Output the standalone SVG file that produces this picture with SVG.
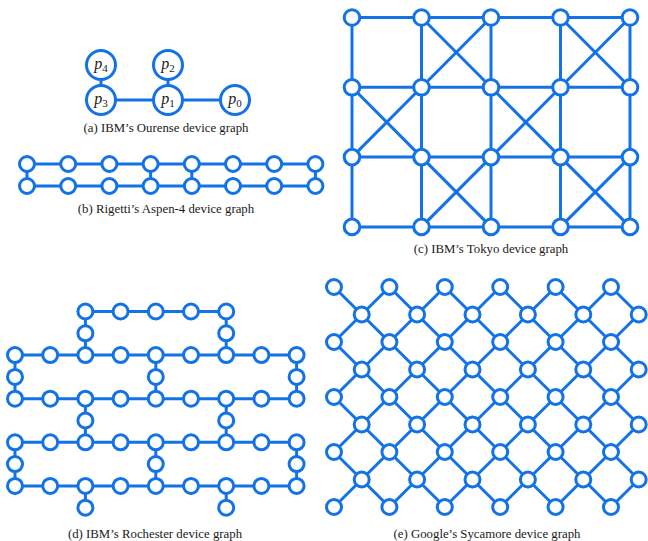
<svg xmlns="http://www.w3.org/2000/svg" width="648" height="541" viewBox="0 0 648 541">
<style>
.e path{stroke:#1272e6;stroke-width:3;fill:none}
.n circle{fill:#fff;stroke:#1272e6;stroke-width:3}
.cap{font-family:"Liberation Serif","Times New Roman",serif;font-size:12.8px;fill:#1a1a1a;text-anchor:middle}
.lbl{font-family:"Liberation Serif","Times New Roman",serif;font-size:16px;fill:#1a1a1a;text-anchor:middle}
.lbl .v{font-style:italic}
.lbl .s{font-size:11px}
</style>
<rect width="648" height="541" fill="#fff"/>

<!-- (a) Ourense -->
<g id="a-edges" class="e">
<path d="M101 100H168"/><path d="M168 100H235"/><path d="M101 65V100"/><path d="M168 65V100"/>
</g>
<g class="n">
<g id="a-p4"><circle cx="101" cy="65" r="14.5"/><text class="lbl" x="101" y="68.5"><tspan class="v">p</tspan><tspan class="s" dy="3">4</tspan></text></g>
<g id="a-p2"><circle cx="168" cy="65" r="14.5"/><text class="lbl" x="168" y="68.5"><tspan class="v">p</tspan><tspan class="s" dy="3">2</tspan></text></g>
<g id="a-p3"><circle cx="101" cy="100" r="14.5"/><text class="lbl" x="101" y="103.5"><tspan class="v">p</tspan><tspan class="s" dy="3">3</tspan></text></g>
<g id="a-p1"><circle cx="168" cy="100" r="14.5"/><text class="lbl" x="168" y="103.5"><tspan class="v">p</tspan><tspan class="s" dy="3">1</tspan></text></g>
<g id="a-p0"><circle cx="235" cy="100" r="14.5"/><text class="lbl" x="235" y="103.5"><tspan class="v">p</tspan><tspan class="s" dy="3">0</tspan></text></g>
</g>
<text class="cap" x="166" y="132">(a) IBM’s Ourense device graph</text>

<!-- (b) Aspen-4 -->
<g id="b-edges" class="e">
<path d="M27 164h41.2"/><path d="M68.2 164h41.2"/><path d="M109.4 164h41.2"/><path d="M150.6 164h41.2"/><path d="M191.8 164h41.2"/><path d="M233 164h41.2"/><path d="M274.2 164h41.2"/>
<path d="M27 186h41.2"/><path d="M68.2 186h41.2"/><path d="M109.4 186h41.2"/><path d="M150.6 186h41.2"/><path d="M191.8 186h41.2"/><path d="M233 186h41.2"/><path d="M274.2 186h41.2"/>
<path d="M27 164v22"/><path d="M150.6 164v22"/><path d="M191.8 164v22"/><path d="M315.4 164v22"/>
</g>
<g class="n">
<g id="b-0-0"><circle cx="27" cy="164" r="7.5"/></g>
<g id="b-0-1"><circle cx="68.2" cy="164" r="7.5"/></g>
<g id="b-0-2"><circle cx="109.4" cy="164" r="7.5"/></g>
<g id="b-0-3"><circle cx="150.6" cy="164" r="7.5"/></g>
<g id="b-0-4"><circle cx="191.8" cy="164" r="7.5"/></g>
<g id="b-0-5"><circle cx="233" cy="164" r="7.5"/></g>
<g id="b-0-6"><circle cx="274.2" cy="164" r="7.5"/></g>
<g id="b-0-7"><circle cx="315.4" cy="164" r="7.5"/></g>
<g id="b-1-0"><circle cx="27" cy="186" r="7.5"/></g>
<g id="b-1-1"><circle cx="68.2" cy="186" r="7.5"/></g>
<g id="b-1-2"><circle cx="109.4" cy="186" r="7.5"/></g>
<g id="b-1-3"><circle cx="150.6" cy="186" r="7.5"/></g>
<g id="b-1-4"><circle cx="191.8" cy="186" r="7.5"/></g>
<g id="b-1-5"><circle cx="233" cy="186" r="7.5"/></g>
<g id="b-1-6"><circle cx="274.2" cy="186" r="7.5"/></g>
<g id="b-1-7"><circle cx="315.4" cy="186" r="7.5"/></g>
</g>
<text class="cap" x="166" y="213">(b) Rigetti’s Aspen-4 device graph</text>

<!-- (c) Tokyo -->
<g id="c-edges" class="e">
<path d="M352 17.5h69.5"/><path d="M421.5 17.5h69.5"/><path d="M491 17.5h69.5"/><path d="M560.5 17.5h69.5"/>
<path d="M352 87.3h69.5"/><path d="M421.5 87.3h69.5"/><path d="M491 87.3h69.5"/><path d="M560.5 87.3h69.5"/>
<path d="M352 157.1h69.5"/><path d="M421.5 157.1h69.5"/><path d="M491 157.1h69.5"/><path d="M560.5 157.1h69.5"/>
<path d="M352 226.9h69.5"/><path d="M421.5 226.9h69.5"/><path d="M491 226.9h69.5"/><path d="M560.5 226.9h69.5"/>
<path d="M352 17.5v69.8"/><path d="M352 87.3v69.8"/><path d="M352 157.1v69.8"/>
<path d="M421.5 17.5v69.8"/><path d="M421.5 87.3v69.8"/><path d="M421.5 157.1v69.8"/>
<path d="M491 17.5v69.8"/><path d="M491 87.3v69.8"/><path d="M491 157.1v69.8"/>
<path d="M560.5 17.5v69.8"/><path d="M560.5 87.3v69.8"/><path d="M560.5 157.1v69.8"/>
<path d="M630 17.5v69.8"/><path d="M630 87.3v69.8"/><path d="M630 157.1v69.8"/>
<path d="M421.5 17.5L491 87.3"/><path d="M491 17.5L421.5 87.3"/>
<path d="M560.5 17.5L630 87.3"/><path d="M630 17.5L560.5 87.3"/>
<path d="M352 87.3L421.5 157.1"/><path d="M421.5 87.3L352 157.1"/>
<path d="M491 87.3L560.5 157.1"/><path d="M560.5 87.3L491 157.1"/>
<path d="M421.5 157.1L491 226.9"/><path d="M491 157.1L421.5 226.9"/>
<path d="M560.5 157.1L630 226.9"/><path d="M630 157.1L560.5 226.9"/>
</g>
<g class="n">
<g id="c-0-0"><circle cx="352" cy="17.5" r="7.8"/></g>
<g id="c-0-1"><circle cx="421.5" cy="17.5" r="7.8"/></g>
<g id="c-0-2"><circle cx="491" cy="17.5" r="7.8"/></g>
<g id="c-0-3"><circle cx="560.5" cy="17.5" r="7.8"/></g>
<g id="c-0-4"><circle cx="630" cy="17.5" r="7.8"/></g>
<g id="c-1-0"><circle cx="352" cy="87.3" r="7.8"/></g>
<g id="c-1-1"><circle cx="421.5" cy="87.3" r="7.8"/></g>
<g id="c-1-2"><circle cx="491" cy="87.3" r="7.8"/></g>
<g id="c-1-3"><circle cx="560.5" cy="87.3" r="7.8"/></g>
<g id="c-1-4"><circle cx="630" cy="87.3" r="7.8"/></g>
<g id="c-2-0"><circle cx="352" cy="157.1" r="7.8"/></g>
<g id="c-2-1"><circle cx="421.5" cy="157.1" r="7.8"/></g>
<g id="c-2-2"><circle cx="491" cy="157.1" r="7.8"/></g>
<g id="c-2-3"><circle cx="560.5" cy="157.1" r="7.8"/></g>
<g id="c-2-4"><circle cx="630" cy="157.1" r="7.8"/></g>
<g id="c-3-0"><circle cx="352" cy="226.9" r="7.8"/></g>
<g id="c-3-1"><circle cx="421.5" cy="226.9" r="7.8"/></g>
<g id="c-3-2"><circle cx="491" cy="226.9" r="7.8"/></g>
<g id="c-3-3"><circle cx="560.5" cy="226.9" r="7.8"/></g>
<g id="c-3-4"><circle cx="630" cy="226.9" r="7.8"/></g>
</g>
<text class="cap" x="491" y="253">(c) IBM’s Tokyo device graph</text>

<!-- (d) Rochester -->
<g id="d-edges" class="e">
<path d="M85.4 311.5h35.2"/><path d="M120.6 311.5h35.2"/><path d="M155.8 311.5h35.2"/><path d="M191 311.5h35.2"/>
<path d="M15 355.1h35.2"/><path d="M50.2 355.1h35.2"/><path d="M85.4 355.1h35.2"/><path d="M120.6 355.1h35.2"/><path d="M155.8 355.1h35.2"/><path d="M191 355.1h35.2"/><path d="M226.2 355.1h35.2"/><path d="M261.4 355.1h35.2"/>
<path d="M15 398.7h35.2"/><path d="M50.2 398.7h35.2"/><path d="M85.4 398.7h35.2"/><path d="M120.6 398.7h35.2"/><path d="M155.8 398.7h35.2"/><path d="M191 398.7h35.2"/><path d="M226.2 398.7h35.2"/><path d="M261.4 398.7h35.2"/>
<path d="M15 442.3h35.2"/><path d="M50.2 442.3h35.2"/><path d="M85.4 442.3h35.2"/><path d="M120.6 442.3h35.2"/><path d="M155.8 442.3h35.2"/><path d="M191 442.3h35.2"/><path d="M226.2 442.3h35.2"/><path d="M261.4 442.3h35.2"/>
<path d="M15 485.9h35.2"/><path d="M50.2 485.9h35.2"/><path d="M85.4 485.9h35.2"/><path d="M120.6 485.9h35.2"/><path d="M155.8 485.9h35.2"/><path d="M191 485.9h35.2"/><path d="M226.2 485.9h35.2"/><path d="M261.4 485.9h35.2"/>
<path d="M85.4 311.5v21.8"/><path d="M85.4 333.3v21.8"/><path d="M226.2 311.5v21.8"/><path d="M226.2 333.3v21.8"/>
<path d="M15 355.1v21.8"/><path d="M15 376.9v21.8"/><path d="M155.8 355.1v21.8"/><path d="M155.8 376.9v21.8"/><path d="M296.6 355.1v21.8"/><path d="M296.6 376.9v21.8"/>
<path d="M85.4 398.7v21.8"/><path d="M85.4 420.5v21.8"/><path d="M226.2 398.7v21.8"/><path d="M226.2 420.5v21.8"/>
<path d="M15 442.3v21.8"/><path d="M15 464.1v21.8"/><path d="M155.8 442.3v21.8"/><path d="M155.8 464.1v21.8"/><path d="M296.6 442.3v21.8"/><path d="M296.6 464.1v21.8"/>
<path d="M85.4 485.9v21.8"/><path d="M226.2 485.9v21.8"/>
</g>
<g class="n">
<g id="d-0-2"><circle cx="85.4" cy="311.5" r="7.5"/></g>
<g id="d-0-3"><circle cx="120.6" cy="311.5" r="7.5"/></g>
<g id="d-0-4"><circle cx="155.8" cy="311.5" r="7.5"/></g>
<g id="d-0-5"><circle cx="191" cy="311.5" r="7.5"/></g>
<g id="d-0-6"><circle cx="226.2" cy="311.5" r="7.5"/></g>
<g id="d-1-2"><circle cx="85.4" cy="333.3" r="7.5"/></g>
<g id="d-1-6"><circle cx="226.2" cy="333.3" r="7.5"/></g>
<g id="d-2-0"><circle cx="15" cy="355.1" r="7.5"/></g>
<g id="d-2-1"><circle cx="50.2" cy="355.1" r="7.5"/></g>
<g id="d-2-2"><circle cx="85.4" cy="355.1" r="7.5"/></g>
<g id="d-2-3"><circle cx="120.6" cy="355.1" r="7.5"/></g>
<g id="d-2-4"><circle cx="155.8" cy="355.1" r="7.5"/></g>
<g id="d-2-5"><circle cx="191" cy="355.1" r="7.5"/></g>
<g id="d-2-6"><circle cx="226.2" cy="355.1" r="7.5"/></g>
<g id="d-2-7"><circle cx="261.4" cy="355.1" r="7.5"/></g>
<g id="d-2-8"><circle cx="296.6" cy="355.1" r="7.5"/></g>
<g id="d-3-0"><circle cx="15" cy="376.9" r="7.5"/></g>
<g id="d-3-4"><circle cx="155.8" cy="376.9" r="7.5"/></g>
<g id="d-3-8"><circle cx="296.6" cy="376.9" r="7.5"/></g>
<g id="d-4-0"><circle cx="15" cy="398.7" r="7.5"/></g>
<g id="d-4-1"><circle cx="50.2" cy="398.7" r="7.5"/></g>
<g id="d-4-2"><circle cx="85.4" cy="398.7" r="7.5"/></g>
<g id="d-4-3"><circle cx="120.6" cy="398.7" r="7.5"/></g>
<g id="d-4-4"><circle cx="155.8" cy="398.7" r="7.5"/></g>
<g id="d-4-5"><circle cx="191" cy="398.7" r="7.5"/></g>
<g id="d-4-6"><circle cx="226.2" cy="398.7" r="7.5"/></g>
<g id="d-4-7"><circle cx="261.4" cy="398.7" r="7.5"/></g>
<g id="d-4-8"><circle cx="296.6" cy="398.7" r="7.5"/></g>
<g id="d-5-2"><circle cx="85.4" cy="420.5" r="7.5"/></g>
<g id="d-5-6"><circle cx="226.2" cy="420.5" r="7.5"/></g>
<g id="d-6-0"><circle cx="15" cy="442.3" r="7.5"/></g>
<g id="d-6-1"><circle cx="50.2" cy="442.3" r="7.5"/></g>
<g id="d-6-2"><circle cx="85.4" cy="442.3" r="7.5"/></g>
<g id="d-6-3"><circle cx="120.6" cy="442.3" r="7.5"/></g>
<g id="d-6-4"><circle cx="155.8" cy="442.3" r="7.5"/></g>
<g id="d-6-5"><circle cx="191" cy="442.3" r="7.5"/></g>
<g id="d-6-6"><circle cx="226.2" cy="442.3" r="7.5"/></g>
<g id="d-6-7"><circle cx="261.4" cy="442.3" r="7.5"/></g>
<g id="d-6-8"><circle cx="296.6" cy="442.3" r="7.5"/></g>
<g id="d-7-0"><circle cx="15" cy="464.1" r="7.5"/></g>
<g id="d-7-4"><circle cx="155.8" cy="464.1" r="7.5"/></g>
<g id="d-7-8"><circle cx="296.6" cy="464.1" r="7.5"/></g>
<g id="d-8-0"><circle cx="15" cy="485.9" r="7.5"/></g>
<g id="d-8-1"><circle cx="50.2" cy="485.9" r="7.5"/></g>
<g id="d-8-2"><circle cx="85.4" cy="485.9" r="7.5"/></g>
<g id="d-8-3"><circle cx="120.6" cy="485.9" r="7.5"/></g>
<g id="d-8-4"><circle cx="155.8" cy="485.9" r="7.5"/></g>
<g id="d-8-5"><circle cx="191" cy="485.9" r="7.5"/></g>
<g id="d-8-6"><circle cx="226.2" cy="485.9" r="7.5"/></g>
<g id="d-8-7"><circle cx="261.4" cy="485.9" r="7.5"/></g>
<g id="d-8-8"><circle cx="296.6" cy="485.9" r="7.5"/></g>
<g id="d-9-2"><circle cx="85.4" cy="507.7" r="7.5"/></g>
<g id="d-9-6"><circle cx="226.2" cy="507.7" r="7.5"/></g>
</g>
<text class="cap" x="155" y="538">(d) IBM’s Rochester device graph</text>

<!-- (e) Sycamore -->
<g id="e-edges" class="e">
<path d="M334 287l27.7 27.5"/><path d="M389.4 287l-27.7 27.5"/><path d="M389.4 287l27.7 27.5"/><path d="M444.8 287l-27.7 27.5"/><path d="M444.8 287l27.7 27.5"/><path d="M500.2 287l-27.7 27.5"/><path d="M500.2 287l27.7 27.5"/><path d="M555.6 287l-27.7 27.5"/><path d="M555.6 287l27.7 27.5"/><path d="M611 287l-27.7 27.5"/><path d="M611 287l27.7 27.5"/>
<path d="M361.7 314.5l-27.7 27.5"/><path d="M361.7 314.5l27.7 27.5"/><path d="M417.1 314.5l-27.7 27.5"/><path d="M417.1 314.5l27.7 27.5"/><path d="M472.5 314.5l-27.7 27.5"/><path d="M472.5 314.5l27.7 27.5"/><path d="M527.9 314.5l-27.7 27.5"/><path d="M527.9 314.5l27.7 27.5"/><path d="M583.3 314.5l-27.7 27.5"/><path d="M583.3 314.5l27.7 27.5"/><path d="M638.7 314.5l-27.7 27.5"/>
<path d="M334 342l27.7 27.5"/><path d="M389.4 342l-27.7 27.5"/><path d="M389.4 342l27.7 27.5"/><path d="M444.8 342l-27.7 27.5"/><path d="M444.8 342l27.7 27.5"/><path d="M500.2 342l-27.7 27.5"/><path d="M500.2 342l27.7 27.5"/><path d="M555.6 342l-27.7 27.5"/><path d="M555.6 342l27.7 27.5"/><path d="M611 342l-27.7 27.5"/><path d="M611 342l27.7 27.5"/>
<path d="M361.7 369.5l-27.7 27.5"/><path d="M361.7 369.5l27.7 27.5"/><path d="M417.1 369.5l-27.7 27.5"/><path d="M417.1 369.5l27.7 27.5"/><path d="M472.5 369.5l-27.7 27.5"/><path d="M472.5 369.5l27.7 27.5"/><path d="M527.9 369.5l-27.7 27.5"/><path d="M527.9 369.5l27.7 27.5"/><path d="M583.3 369.5l-27.7 27.5"/><path d="M583.3 369.5l27.7 27.5"/><path d="M638.7 369.5l-27.7 27.5"/>
<path d="M334 397l27.7 27.5"/><path d="M389.4 397l-27.7 27.5"/><path d="M389.4 397l27.7 27.5"/><path d="M444.8 397l-27.7 27.5"/><path d="M444.8 397l27.7 27.5"/><path d="M500.2 397l-27.7 27.5"/><path d="M500.2 397l27.7 27.5"/><path d="M555.6 397l-27.7 27.5"/><path d="M555.6 397l27.7 27.5"/><path d="M611 397l-27.7 27.5"/><path d="M611 397l27.7 27.5"/>
<path d="M361.7 424.5l-27.7 27.5"/><path d="M361.7 424.5l27.7 27.5"/><path d="M417.1 424.5l-27.7 27.5"/><path d="M417.1 424.5l27.7 27.5"/><path d="M472.5 424.5l-27.7 27.5"/><path d="M472.5 424.5l27.7 27.5"/><path d="M527.9 424.5l-27.7 27.5"/><path d="M527.9 424.5l27.7 27.5"/><path d="M583.3 424.5l-27.7 27.5"/><path d="M583.3 424.5l27.7 27.5"/><path d="M638.7 424.5l-27.7 27.5"/>
<path d="M334 452l27.7 27.5"/><path d="M389.4 452l-27.7 27.5"/><path d="M389.4 452l27.7 27.5"/><path d="M444.8 452l-27.7 27.5"/><path d="M444.8 452l27.7 27.5"/><path d="M500.2 452l-27.7 27.5"/><path d="M500.2 452l27.7 27.5"/><path d="M555.6 452l-27.7 27.5"/><path d="M555.6 452l27.7 27.5"/><path d="M611 452l-27.7 27.5"/><path d="M611 452l27.7 27.5"/>
<path d="M361.7 479.5l-27.7 27.5"/><path d="M361.7 479.5l27.7 27.5"/><path d="M417.1 479.5l-27.7 27.5"/><path d="M417.1 479.5l27.7 27.5"/><path d="M472.5 479.5l-27.7 27.5"/><path d="M472.5 479.5l27.7 27.5"/><path d="M527.9 479.5l-27.7 27.5"/><path d="M527.9 479.5l27.7 27.5"/><path d="M583.3 479.5l-27.7 27.5"/><path d="M583.3 479.5l27.7 27.5"/><path d="M638.7 479.5l-27.7 27.5"/>
</g>
<g class="n">
<g id="e-0-0"><circle cx="334" cy="287" r="7.5"/></g>
<g id="e-0-2"><circle cx="389.4" cy="287" r="7.5"/></g>
<g id="e-0-4"><circle cx="444.8" cy="287" r="7.5"/></g>
<g id="e-0-6"><circle cx="500.2" cy="287" r="7.5"/></g>
<g id="e-0-8"><circle cx="555.6" cy="287" r="7.5"/></g>
<g id="e-0-10"><circle cx="611" cy="287" r="7.5"/></g>
<g id="e-1-1"><circle cx="361.7" cy="314.5" r="7.5"/></g>
<g id="e-1-3"><circle cx="417.1" cy="314.5" r="7.5"/></g>
<g id="e-1-5"><circle cx="472.5" cy="314.5" r="7.5"/></g>
<g id="e-1-7"><circle cx="527.9" cy="314.5" r="7.5"/></g>
<g id="e-1-9"><circle cx="583.3" cy="314.5" r="7.5"/></g>
<g id="e-1-11"><circle cx="638.7" cy="314.5" r="7.5"/></g>
<g id="e-2-0"><circle cx="334" cy="342" r="7.5"/></g>
<g id="e-2-2"><circle cx="389.4" cy="342" r="7.5"/></g>
<g id="e-2-4"><circle cx="444.8" cy="342" r="7.5"/></g>
<g id="e-2-6"><circle cx="500.2" cy="342" r="7.5"/></g>
<g id="e-2-8"><circle cx="555.6" cy="342" r="7.5"/></g>
<g id="e-2-10"><circle cx="611" cy="342" r="7.5"/></g>
<g id="e-3-1"><circle cx="361.7" cy="369.5" r="7.5"/></g>
<g id="e-3-3"><circle cx="417.1" cy="369.5" r="7.5"/></g>
<g id="e-3-5"><circle cx="472.5" cy="369.5" r="7.5"/></g>
<g id="e-3-7"><circle cx="527.9" cy="369.5" r="7.5"/></g>
<g id="e-3-9"><circle cx="583.3" cy="369.5" r="7.5"/></g>
<g id="e-3-11"><circle cx="638.7" cy="369.5" r="7.5"/></g>
<g id="e-4-0"><circle cx="334" cy="397" r="7.5"/></g>
<g id="e-4-2"><circle cx="389.4" cy="397" r="7.5"/></g>
<g id="e-4-4"><circle cx="444.8" cy="397" r="7.5"/></g>
<g id="e-4-6"><circle cx="500.2" cy="397" r="7.5"/></g>
<g id="e-4-8"><circle cx="555.6" cy="397" r="7.5"/></g>
<g id="e-4-10"><circle cx="611" cy="397" r="7.5"/></g>
<g id="e-5-1"><circle cx="361.7" cy="424.5" r="7.5"/></g>
<g id="e-5-3"><circle cx="417.1" cy="424.5" r="7.5"/></g>
<g id="e-5-5"><circle cx="472.5" cy="424.5" r="7.5"/></g>
<g id="e-5-7"><circle cx="527.9" cy="424.5" r="7.5"/></g>
<g id="e-5-9"><circle cx="583.3" cy="424.5" r="7.5"/></g>
<g id="e-5-11"><circle cx="638.7" cy="424.5" r="7.5"/></g>
<g id="e-6-0"><circle cx="334" cy="452" r="7.5"/></g>
<g id="e-6-2"><circle cx="389.4" cy="452" r="7.5"/></g>
<g id="e-6-4"><circle cx="444.8" cy="452" r="7.5"/></g>
<g id="e-6-6"><circle cx="500.2" cy="452" r="7.5"/></g>
<g id="e-6-8"><circle cx="555.6" cy="452" r="7.5"/></g>
<g id="e-6-10"><circle cx="611" cy="452" r="7.5"/></g>
<g id="e-7-1"><circle cx="361.7" cy="479.5" r="7.5"/></g>
<g id="e-7-3"><circle cx="417.1" cy="479.5" r="7.5"/></g>
<g id="e-7-5"><circle cx="472.5" cy="479.5" r="7.5"/></g>
<g id="e-7-7"><circle cx="527.9" cy="479.5" r="7.5"/></g>
<g id="e-7-9"><circle cx="583.3" cy="479.5" r="7.5"/></g>
<g id="e-7-11"><circle cx="638.7" cy="479.5" r="7.5"/></g>
<g id="e-8-0"><circle cx="334" cy="507" r="7.5"/></g>
<g id="e-8-2"><circle cx="389.4" cy="507" r="7.5"/></g>
<g id="e-8-4"><circle cx="444.8" cy="507" r="7.5"/></g>
<g id="e-8-6"><circle cx="500.2" cy="507" r="7.5"/></g>
<g id="e-8-8"><circle cx="555.6" cy="507" r="7.5"/></g>
<g id="e-8-10"><circle cx="611" cy="507" r="7.5"/></g>
</g>
<text class="cap" x="487" y="538">(e) Google’s Sycamore device graph</text>
</svg>
